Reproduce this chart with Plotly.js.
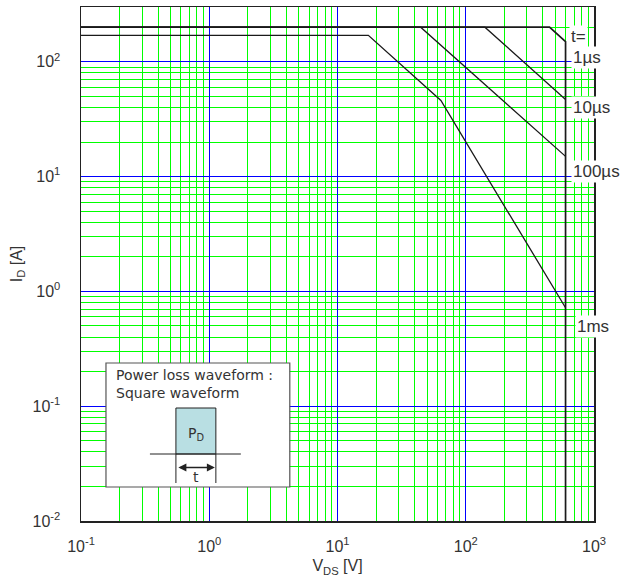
<!DOCTYPE html>
<html>
<head>
<meta charset="utf-8">
<script src="https://cdn.plot.ly/plotly-3.0.1.min.js"></script>
<style>html,body{margin:0;padding:0;background:#fff;}#chart{width:636px;height:583px;}</style>
</head>
<body>
<div id="chart"></div>
<script>
// Safe operating area curves (VDS [V], ID [A])
const vds_1us = [0.1, 450, 600, 600];
const id_1us = [200, 200, 150, 0.01];
const vds_10us = [0.1, 141, 600];
const id_10us = [200, 200, 47];
const vds_100us = [0.1, 44.5, 600];
const id_100us = [200, 200, 15];
const vds_1ms = [0.1, 17.4, 64, 600];
const id_1ms = [170, 170, 46, 0.72];

const curveLabels = ["t=", "1µs", "10µs", "100µs", "1ms"];
const xTickVals = [0.1, 1, 10, 100, 1000];
const xTickText = ["10<sup>-1</sup>", "10<sup>0</sup>", "10<sup>1</sup>", "10<sup>2</sup>", "10<sup>3</sup>"];
const yTickVals = [0.01, 0.1, 1, 10, 100];
const yTickText = ["10<sup>-2</sup>", "10<sup>-1</sup>", "10<sup>0</sup>", "10<sup>1</sup>", "10<sup>2</sup>"];

// plot area in pixels
const L = 81, R = 594.5, T = 7, B = 521;
const W = 636, H = 583;
const px = x => (x - L) / (R - L);
const py = y => (B - y) / (B - T);

function minorVals(d0, d1) {
  const v = [];
  for (let e = d0; e < d1; e++) for (let k = 2; k <= 9; k++) v.push(k * Math.pow(10, e));
  return v;
}

const XR = [-1, 3], YR = [-2, Math.log10(300)];

const lineStyle = {color: '#1a1a1a', width: 1.3};
const traces = [
  {x: vds_1us, y: id_1us, mode: 'lines', line: {color: '#1a1a1a', width: 1.7}, xaxis: 'x2', yaxis: 'y2'},
  {x: vds_10us, y: id_10us, mode: 'lines', line: lineStyle, xaxis: 'x2', yaxis: 'y2'},
  {x: vds_100us, y: id_100us, mode: 'lines', line: lineStyle, xaxis: 'x2', yaxis: 'y2'},
  {x: vds_1ms, y: id_1ms, mode: 'lines', line: lineStyle, xaxis: 'x2', yaxis: 'y2'},
  {x: [1], y: [1], mode: 'markers', marker: {opacity: 0}, hoverinfo: 'skip', xaxis: 'x', yaxis: 'y'}
];

const ff = 'Liberation Sans, Arial, sans-serif';
const font = {family: ff, size: 16, color: '#333'};

const labelPos = [[569, 36], [571, 58], [571, 108], [571, 172], [575, 326]];
const annotations = curveLabels.map((t, i) => ({
  xref: 'paper', yref: 'paper', x: px(labelPos[i][0]), y: py(labelPos[i][1]),
  xanchor: 'left', yanchor: 'middle', text: t, showarrow: false,
  bgcolor: '#fff', borderpad: 1, font: {family: ff, size: 17, color: '#333'}
}));

const inFont = {family: 'DejaVu Sans, sans-serif', size: 14, color: '#333'};
annotations.push({xref: 'paper', yref: 'paper', x: px(114), y: py(375), xanchor: 'left', yanchor: 'middle',
  text: 'Power loss waveform :', showarrow: false, font: inFont});
annotations.push({xref: 'paper', yref: 'paper', x: px(114), y: py(393), xanchor: 'left', yanchor: 'middle',
  text: 'Square waveform', showarrow: false, font: inFont});
annotations.push({xref: 'paper', yref: 'paper', x: px(196), y: py(434), xanchor: 'center', yanchor: 'middle',
  text: 'P<sub>D</sub>', showarrow: false, font: inFont});
annotations.push({xref: 'paper', yref: 'paper', x: px(196), y: py(477), xanchor: 'center', yanchor: 'middle',
  text: 't', showarrow: false, font: inFont});
annotations.push({xref: 'paper', yref: 'paper', x: px(215), y: py(467.5), ax: -38, ay: 0,
  text: '', showarrow: true, arrowside: 'end+start', arrowhead: 2, startarrowhead: 2,
  arrowsize: 1, startarrowsize: 1, arrowwidth: 1.6, arrowcolor: '#222'});

const shapes = [
  {type: 'rect', xref: 'paper', yref: 'paper', x0: px(106), x1: px(290), y0: py(487), y1: py(363),
   fillcolor: '#fff', line: {color: '#555', width: 1.2}},
  {type: 'rect', xref: 'paper', yref: 'paper', x0: px(176), x1: px(216), y0: py(454), y1: py(408),
   fillcolor: '#b9dfe3', line: {color: '#222', width: 1}},
  {type: 'line', xref: 'paper', yref: 'paper', x0: px(150), x1: px(241), y0: py(454), y1: py(454),
   line: {color: '#222', width: 1}},
  {type: 'line', xref: 'paper', yref: 'paper', x0: px(176), x1: px(176), y0: py(454), y1: py(483),
   line: {color: '#222', width: 1}},
  {type: 'line', xref: 'paper', yref: 'paper', x0: px(216), x1: px(216), y0: py(454), y1: py(483),
   line: {color: '#222', width: 1}}
];

const layout = {
  width: W, height: H,
  margin: {l: L, r: W - R, t: T, b: H - B, pad: 0},
  paper_bgcolor: '#fff', plot_bgcolor: '#fff',
  showlegend: false,
  font: font,
  // minor (green) grid
  xaxis: {
    type: 'log', range: XR, tickmode: 'array', tickvals: minorVals(-1, 3),
    showticklabels: false, ticks: '', showgrid: true, gridcolor: '#00ff00', gridwidth: 1,
    showline: false, zeroline: false
  },
  yaxis: {
    type: 'log', range: YR, tickmode: 'array', tickvals: minorVals(-2, 3),
    showticklabels: false, ticks: '', showgrid: true, gridcolor: '#00ff00', gridwidth: 1,
    showline: false, zeroline: false
  },
  // decade (blue) grid with labels
  xaxis2: {
    type: 'log', range: XR, overlaying: 'x', side: 'bottom', anchor: 'y2',
    tickmode: 'array', tickvals: xTickVals, ticktext: xTickText,
    showgrid: true, gridcolor: '#0000ff', gridwidth: 1,
    showline: true, linecolor: '#222', linewidth: 1.5, mirror: true,
    ticks: '', ticklabelstandoff: 10, zeroline: false,
    tickfont: {family: ff, size: 16, color: '#333'},
    title: {text: 'V<sub>DS</sub> [V]', font: {family: ff, size: 16, color: '#333'}, standoff: 6}
  },
  yaxis2: {
    type: 'log', range: YR, overlaying: 'y', side: 'left', anchor: 'x2',
    tickmode: 'array', tickvals: yTickVals, ticktext: yTickText,
    showgrid: true, gridcolor: '#0000ff', gridwidth: 1,
    showline: true, linecolor: '#222', linewidth: 1.5, mirror: true,
    ticks: '', ticklabelstandoff: 16, zeroline: false,
    tickfont: {family: ff, size: 16, color: '#333'},
    title: {text: 'I<sub>D</sub> [A]', font: {family: ff, size: 16, color: '#333'}, standoff: 6}
  },
  shapes: shapes,
  annotations: annotations
};

Plotly.newPlot('chart', traces, layout, {staticPlot: true, displayModeBar: false});
</script>
</body>
</html>
